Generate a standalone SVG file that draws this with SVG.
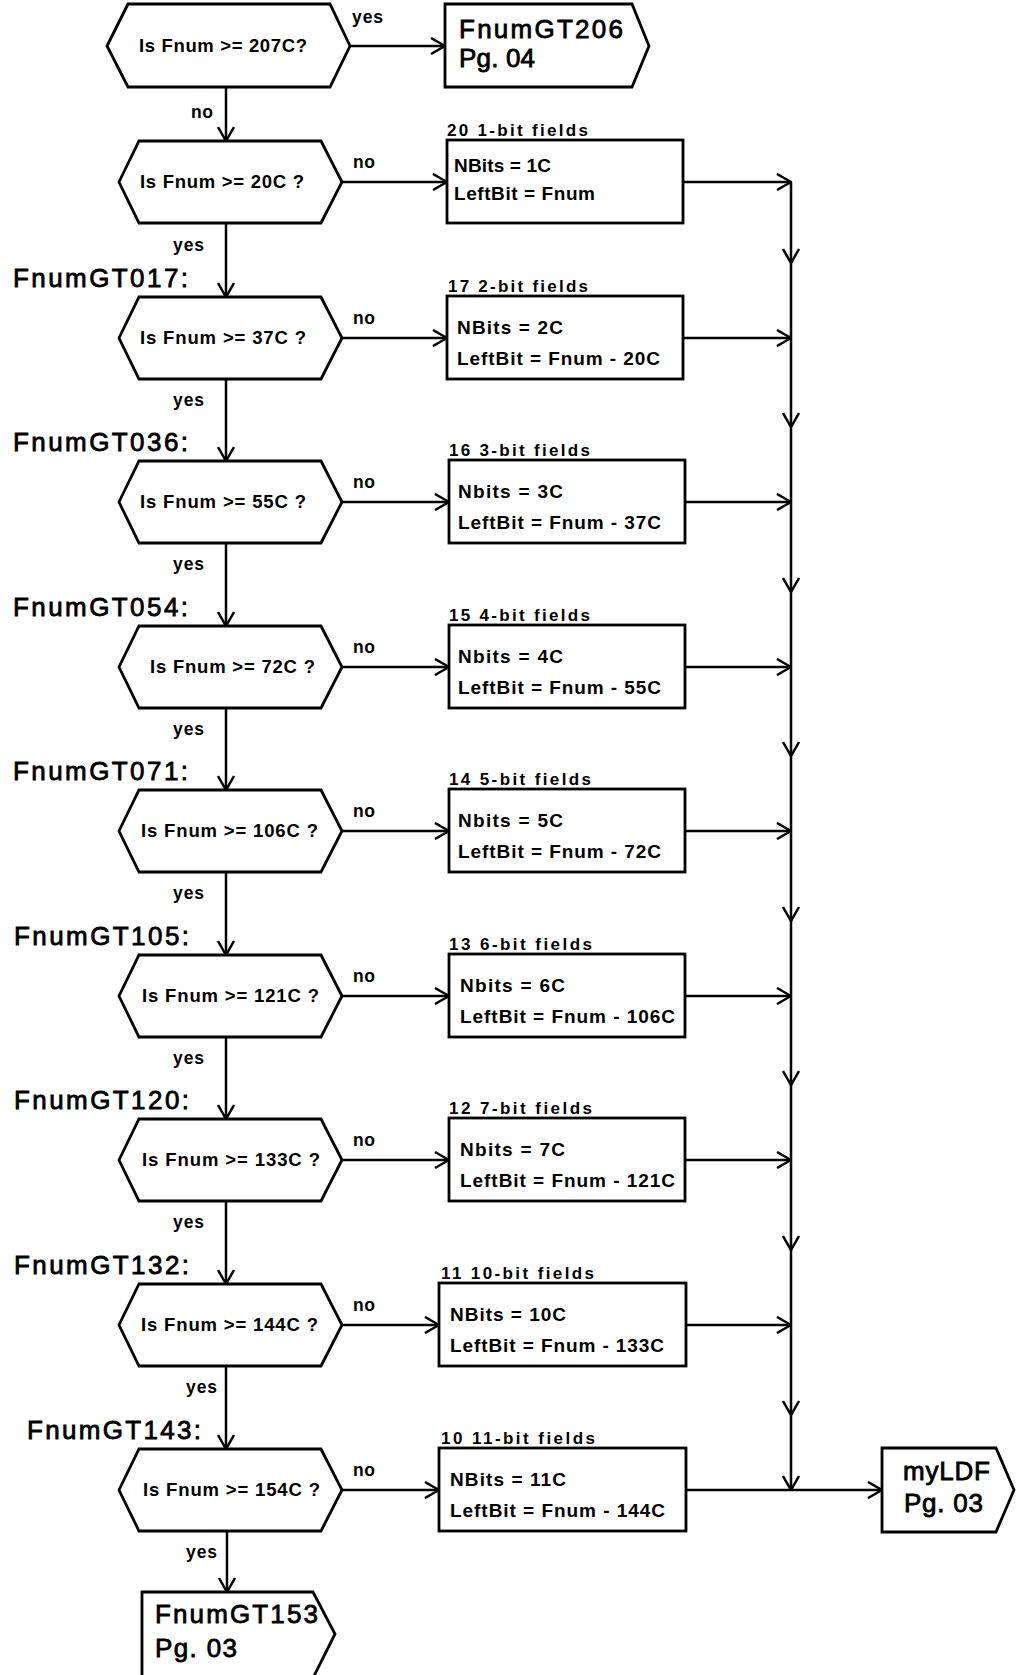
<svg xmlns="http://www.w3.org/2000/svg" width="1016" height="1675" viewBox="0 0 1016 1675">
  <defs>
    <style>
      .ln { fill: none; stroke: #000; stroke-width: 2.5; }
      .shp { fill: #fff; stroke: #000; stroke-width: 2.8; stroke-linejoin: miter; }
      .t { font-family: "Liberation Sans", Arial, Helvetica, sans-serif; font-weight: bold; font-size: 18.5px; fill: #000; }
      .lb { font-family: "Liberation Sans", Arial, Helvetica, sans-serif; font-weight: bold; font-size: 17.5px; fill: #000; }
      .bx { font-family: "Liberation Sans", Arial, Helvetica, sans-serif; font-weight: bold; font-size: 19px; fill: #000; }
      .cap { font-family: "Liberation Sans", Arial, Helvetica, sans-serif; font-weight: bold; font-size: 17px; fill: #000; }
      .big { font-family: "Liberation Sans", Arial, Helvetica, sans-serif; font-size: 26px; fill: #000; stroke: #000; stroke-width: 0.8; }
      .off { font-family: "Liberation Sans", Arial, Helvetica, sans-serif; font-size: 26px; fill: #000; stroke: #000; stroke-width: 0.8; }
    </style>
    <marker id="arr" viewBox="0 0 16 18" refX="15" refY="9" markerWidth="16" markerHeight="18" markerUnits="userSpaceOnUse" orient="auto">
      <path d="M1,1 L15,9 L1,17" fill="none" stroke="#000" stroke-width="2.5"/>
    </marker>
  </defs>
  <rect width="1016" height="1675" fill="#fff"/>

  <!-- connectors -->
  <g id="connectors" class="ln" marker-end="url(#arr)">
    <!-- top decision: yes to off-page, no down -->
    <path d="M351,46 H445"/>
    <path d="M226,87 V141"/>
    <!-- yes chain down the left -->
    <path d="M226,223 V297"/>
    <path d="M226,379 V461"/>
    <path d="M226,543 V626"/>
    <path d="M226,708 V790"/>
    <path d="M226,872 V955"/>
    <path d="M226,1037 V1119"/>
    <path d="M226,1201 V1284"/>
    <path d="M226,1366 V1449"/>
    <path d="M227,1531 V1592"/>
    <!-- no branches into field boxes -->
    <path d="M342,182 H447"/>
    <path d="M342,338 H447"/>
    <path d="M342,502 H449"/>
    <path d="M342,667 H449"/>
    <path d="M342,831 H449"/>
    <path d="M342,996 H449"/>
    <path d="M342,1160 H449"/>
    <path d="M342,1325 H439"/>
    <path d="M342,1490 H439"/>
    <!-- field boxes into the collector line -->
    <path d="M683,182 H791"/>
    <path d="M683,338 H791"/>
    <path d="M685,502 H791"/>
    <path d="M685,667 H791"/>
    <path d="M685,831 H791"/>
    <path d="M685,996 H791"/>
    <path d="M685,1160 H791"/>
    <path d="M686,1325 H791"/>
    <path d="M686,1490 H882"/>
    <!-- collector line with flow arrows -->
    <path d="M791,182 V263"/>
    <path d="M791,263 V427"/>
    <path d="M791,427 V592"/>
    <path d="M791,592 V756"/>
    <path d="M791,756 V921"/>
    <path d="M791,921 V1085"/>
    <path d="M791,1085 V1250"/>
    <path d="M791,1250 V1415"/>
    <path d="M791,1415 V1490"/>
  </g>

  <!-- connector labels -->
  <g id="connector-labels">
    <text class="lb" x="352" y="23" textLength="31">yes</text>
    <text class="lb" x="191" y="118" textLength="22">no</text>
    <text class="lb" x="353" y="168" textLength="22">no</text>
    <text class="lb" x="353" y="324" textLength="22">no</text>
    <text class="lb" x="353" y="488" textLength="22">no</text>
    <text class="lb" x="353" y="653" textLength="22">no</text>
    <text class="lb" x="353" y="817" textLength="22">no</text>
    <text class="lb" x="353" y="982" textLength="22">no</text>
    <text class="lb" x="353" y="1146" textLength="22">no</text>
    <text class="lb" x="353" y="1311" textLength="22">no</text>
    <text class="lb" x="353" y="1476" textLength="22">no</text>
    <text class="lb" x="173" y="251" textLength="31">yes</text>
    <text class="lb" x="173" y="406" textLength="31">yes</text>
    <text class="lb" x="173" y="570" textLength="31">yes</text>
    <text class="lb" x="173" y="735" textLength="31">yes</text>
    <text class="lb" x="173" y="899" textLength="31">yes</text>
    <text class="lb" x="173" y="1064" textLength="31">yes</text>
    <text class="lb" x="173" y="1228" textLength="31">yes</text>
    <text class="lb" x="186" y="1393" textLength="31">yes</text>
    <text class="lb" x="186" y="1558" textLength="31">yes</text>
  </g>

  <!-- entry labels -->
  <g id="entry-labels">
    <text class="big" x="13" y="287" textLength="175">FnumGT017:</text>
    <text class="big" x="13" y="451" textLength="175">FnumGT036:</text>
    <text class="big" x="13" y="616" textLength="175">FnumGT054:</text>
    <text class="big" x="13" y="780" textLength="175">FnumGT071:</text>
    <text class="big" x="14" y="945" textLength="175">FnumGT105:</text>
    <text class="big" x="14" y="1109" textLength="175">FnumGT120:</text>
    <text class="big" x="14" y="1274" textLength="175">FnumGT132:</text>
    <text class="big" x="27" y="1439" textLength="174">FnumGT143:</text>
  </g>

  <!-- decisions -->
  <g id="dec-207">
    <polygon class="shp" points="107,46 128,4 330,4 350,46 330,87 128,87"/>
    <text class="t" x="139" y="52" textLength="168">Is Fnum &gt;= 207C?</text>
  </g>
  <g id="dec-20">
    <polygon class="shp" points="119,182 139,141 321,141 342,182 321,223 139,223"/>
    <text class="t" x="140" y="188" textLength="164">Is Fnum &gt;= 20C ?</text>
  </g>
  <g id="dec-37">
    <polygon class="shp" points="119,338 139,297 321,297 342,338 321,379 139,379"/>
    <text class="t" x="140" y="344" textLength="166">Is Fnum &gt;= 37C ?</text>
  </g>
  <g id="dec-55">
    <polygon class="shp" points="119,502 139,461 321,461 342,502 321,543 139,543"/>
    <text class="t" x="140" y="508" textLength="166">Is Fnum &gt;= 55C ?</text>
  </g>
  <g id="dec-72">
    <polygon class="shp" points="119,667 139,626 321,626 342,667 321,708 139,708"/>
    <text class="t" x="150" y="673" textLength="165">Is Fnum &gt;= 72C ?</text>
  </g>
  <g id="dec-106">
    <polygon class="shp" points="119,831 139,790 321,790 342,831 321,872 139,872"/>
    <text class="t" x="141" y="837" textLength="177">Is Fnum &gt;= 106C ?</text>
  </g>
  <g id="dec-121">
    <polygon class="shp" points="119,996 139,955 321,955 342,996 321,1037 139,1037"/>
    <text class="t" x="142" y="1002" textLength="177">Is Fnum &gt;= 121C ?</text>
  </g>
  <g id="dec-133">
    <polygon class="shp" points="119,1160 139,1119 321,1119 342,1160 321,1201 139,1201"/>
    <text class="t" x="142" y="1166" textLength="178">Is Fnum &gt;= 133C ?</text>
  </g>
  <g id="dec-144">
    <polygon class="shp" points="119,1325 139,1284 321,1284 342,1325 321,1366 139,1366"/>
    <text class="t" x="141" y="1331" textLength="177">Is Fnum &gt;= 144C ?</text>
  </g>
  <g id="dec-154">
    <polygon class="shp" points="119,1490 139,1449 321,1449 342,1490 321,1531 139,1531"/>
    <text class="t" x="143" y="1496" textLength="177">Is Fnum &gt;= 154C ?</text>
  </g>

  <!-- field assignment boxes -->
  <g id="fields-1bit">
    <text class="cap" x="447" y="136" textLength="141">20 1-bit fields</text>
    <rect class="shp" x="447" y="140" width="236" height="83"/>
    <text class="bx" x="454" y="172" textLength="97">NBits = 1C</text>
    <text class="bx" x="454" y="200" textLength="141">LeftBit = Fnum</text>
  </g>
  <g id="fields-2bit">
    <text class="cap" x="448" y="292" textLength="140">17 2-bit fields</text>
    <rect class="shp" x="447" y="296" width="236" height="83"/>
    <text class="bx" x="457" y="334" textLength="106">NBits = 2C</text>
    <text class="bx" x="457" y="365" textLength="203">LeftBit = Fnum - 20C</text>
  </g>
  <g id="fields-3bit">
    <text class="cap" x="449" y="456" textLength="141">16 3-bit fields</text>
    <rect class="shp" x="449" y="460" width="236" height="83"/>
    <text class="bx" x="458" y="498" textLength="105">Nbits = 3C</text>
    <text class="bx" x="458" y="529" textLength="203">LeftBit = Fnum - 37C</text>
  </g>
  <g id="fields-4bit">
    <text class="cap" x="449" y="621" textLength="141">15 4-bit fields</text>
    <rect class="shp" x="449" y="625" width="236" height="83"/>
    <text class="bx" x="458" y="663" textLength="105">Nbits = 4C</text>
    <text class="bx" x="458" y="694" textLength="203">LeftBit = Fnum - 55C</text>
  </g>
  <g id="fields-5bit">
    <text class="cap" x="449" y="785" textLength="142">14 5-bit fields</text>
    <rect class="shp" x="449" y="789" width="236" height="83"/>
    <text class="bx" x="458" y="827" textLength="105">Nbits = 5C</text>
    <text class="bx" x="458" y="858" textLength="203">LeftBit = Fnum - 72C</text>
  </g>
  <g id="fields-6bit">
    <text class="cap" x="449" y="950" textLength="143">13 6-bit fields</text>
    <rect class="shp" x="449" y="954" width="236" height="83"/>
    <text class="bx" x="460" y="992" textLength="105">Nbits = 6C</text>
    <text class="bx" x="460" y="1023" textLength="215">LeftBit = Fnum - 106C</text>
  </g>
  <g id="fields-7bit">
    <text class="cap" x="449" y="1114" textLength="143">12 7-bit fields</text>
    <rect class="shp" x="449" y="1118" width="236" height="83"/>
    <text class="bx" x="460" y="1156" textLength="105">Nbits = 7C</text>
    <text class="bx" x="460" y="1187" textLength="215">LeftBit = Fnum - 121C</text>
  </g>
  <g id="fields-10bit">
    <text class="cap" x="441" y="1279" textLength="153">11 10-bit fields</text>
    <rect class="shp" x="439" y="1283" width="247" height="83"/>
    <text class="bx" x="450" y="1321" textLength="116">NBits = 10C</text>
    <text class="bx" x="450" y="1352" textLength="214">LeftBit = Fnum - 133C</text>
  </g>
  <g id="fields-11bit">
    <text class="cap" x="441" y="1444" textLength="154">10 11-bit fields</text>
    <rect class="shp" x="439" y="1448" width="247" height="83"/>
    <text class="bx" x="450" y="1486" textLength="116">NBits = 11C</text>
    <text class="bx" x="450" y="1517" textLength="215">LeftBit = Fnum - 144C</text>
  </g>

  <!-- off-page connectors -->
  <g id="off-FnumGT206">
    <polygon class="shp" points="445,4 632,4 649,46 632,87 445,87"/>
    <text class="off" x="459" y="38" textLength="164">FnumGT206</text>
    <text class="off" x="459" y="67" textLength="76">Pg. 04</text>
  </g>
  <g id="off-myLDF">
    <polygon class="shp" points="882,1448 996,1448 1014,1490 996,1532 882,1532"/>
    <text class="off" x="903" y="1480" textLength="87">myLDF</text>
    <text class="off" x="904" y="1512" textLength="79">Pg. 03</text>
  </g>
  <g id="off-FnumGT153">
    <polygon class="shp" points="142,1592 313,1592 335,1634 313,1678 142,1678"/>
    <text class="off" x="155" y="1623" textLength="163">FnumGT153</text>
    <text class="off" x="155" y="1657" textLength="82">Pg. 03</text>
  </g>
</svg>
